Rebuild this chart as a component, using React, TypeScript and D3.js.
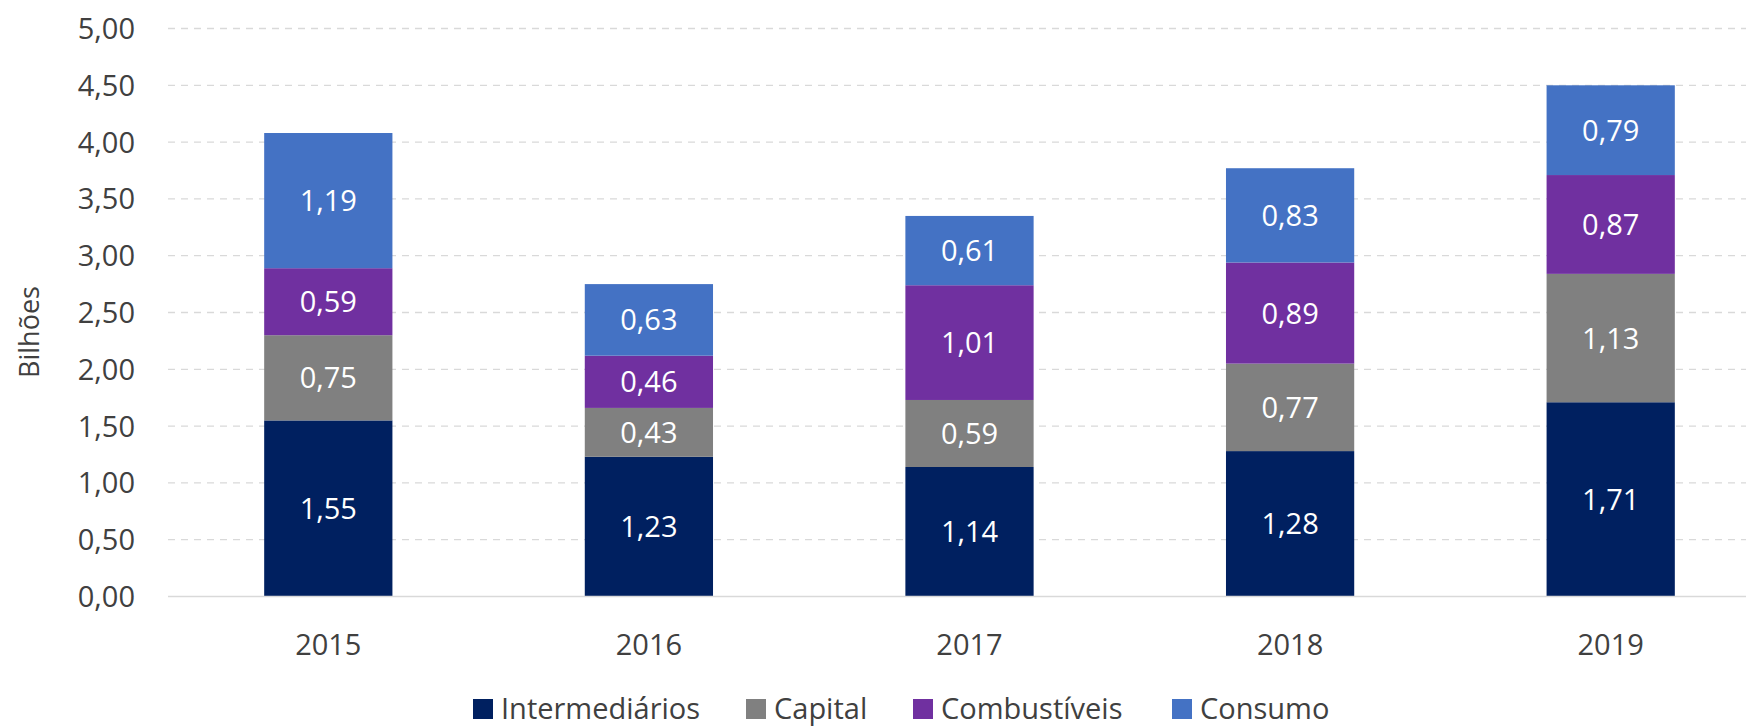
import React from "react";
import { scaleBand, scaleLinear, stack, format, formatLocale } from "d3";

const width = 1746;
const height = 726;

const years = ["2015", "2016", "2017", "2018", "2019"];
const seriesNames = ["Intermediários", "Capital", "Combustíveis", "Consumo"];
const seriesColors = ["#002060", "#808080", "#7030A0", "#4472C4"];

const intermediarios = [1.55, 1.23, 1.14, 1.28, 1.71];
const capital = [0.75, 0.43, 0.59, 0.77, 1.13];
const combustiveis = [0.59, 0.46, 1.01, 0.89, 0.87];
const consumo = [1.19, 0.63, 0.61, 0.83, 0.79];

const yTicks = [0, 0.5, 1, 1.5, 2, 2.5, 3, 3.5, 4, 4.5, 5];

const ptBR = formatLocale({
  decimal: ",",
  thousands: ".",
  grouping: [3],
  currency: ["R$", ""],
});
const fmt = ptBR.format(".2f");

const rows = years.map((year, i) => ({
  year,
  "Intermediários": intermediarios[i],
  Capital: capital[i],
  "Combustíveis": combustiveis[i],
  Consumo: consumo[i],
}));

const FONT = "'Open Sans', 'Noto Sans', sans-serif";

export default function App() {
  const margin = { top: 28.5, left: 168, bottom: 596.5, right: 1771 };

  const x = scaleBand<string>()
    .domain(years)
    .range([margin.left, margin.right])
    .paddingInner(0.6)
    .paddingOuter(0.3);

  const y = scaleLinear().domain([0, 5]).range([margin.bottom, margin.top]);

  const layers = stack<any>().keys(seriesNames)(rows);

  // legend layout: square + label, fixed gaps between items
  const legendX = [473, 746, 913, 1172];

  return (
    <svg
      width={width}
      height={height}
      style={{ position: "absolute", left: 0, top: 0, background: "#fff" }}
      fontFamily={FONT}
    >
      {yTicks.map((t) => (
        <g key={t}>
          {t > 0 && (
            <line
              x1={margin.left}
              x2={width}
              y1={y(t)}
              y2={y(t)}
              stroke="#d9d9d9"
              strokeWidth={1.3}
              strokeDasharray="7,6"
            />
          )}
          <text
            x={135}
            y={y(t)}
            dy="0.36em"
            textAnchor="end"
            fontSize={29}
            fill="#404040"
          >
            {fmt(t)}
          </text>
        </g>
      ))}

      {layers.map((layer, si) => (
        <g key={layer.key} fill={seriesColors[si]}>
          {layer.map((d, i) => (
            <rect
              key={years[i]}
              x={x(years[i])}
              y={y(d[1])}
              width={x.bandwidth()}
              height={y(d[0]) - y(d[1])}
            />
          ))}
        </g>
      ))}

      <line
        x1={margin.left}
        x2={width}
        y1={y(0)}
        y2={y(0)}
        stroke="#d9d9d9"
        strokeWidth={1.5}
      />

      {layers.map((layer, si) => (
        <g key={layer.key + "-lbl"}>
          {layer.map((d, i) => (
            <text
              key={years[i]}
              x={(x(years[i]) as number) + x.bandwidth() / 2}
              y={(y(d[0]) + y(d[1])) / 2}
              dy="0.36em"
              textAnchor="middle"
              fontSize={29}
              fill="#fff"
            >
              {fmt(d[1] - d[0])}
            </text>
          ))}
        </g>
      ))}

      {years.map((yr) => (
        <text
          key={yr}
          x={(x(yr) as number) + x.bandwidth() / 2}
          y={655}
          textAnchor="middle"
          fontSize={29}
          fill="#404040"
        >
          {yr}
        </text>
      ))}

      <text
        transform={`translate(39,${332}) rotate(-90)`}
        textAnchor="middle"
        fontSize={27}
        fill="#404040"
      >
        Bilhões
      </text>

      {seriesNames.map((name, i) => (
        <g key={name} transform={`translate(${legendX[i]},699)`}>
          <rect width={20} height={20} fill={seriesColors[i]} />
          <text x={28} y={20} fontSize={29} fill="#404040">
            {name}
          </text>
        </g>
      ))}
    </svg>
  );
}
